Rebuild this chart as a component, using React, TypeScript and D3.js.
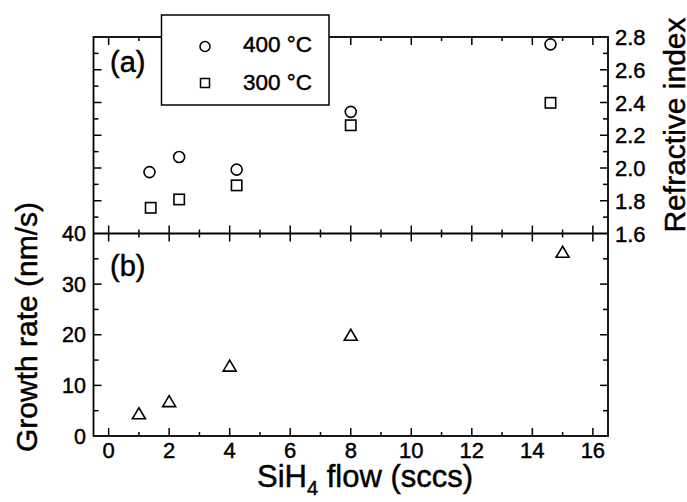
import React from "react";
import * as d3 from "d3";

// ---- data ----
const flow400 = [1.35, 2.33, 4.23, 8.0, 14.6];
const ri400 = [1.975, 2.067, 1.99, 2.343, 2.755];
const flow300 = [1.39, 2.33, 4.23, 8.0, 14.6];
const ri300 = [1.757, 1.808, 1.894, 2.261, 2.398];
const flowGR = [1, 2, 4, 8, 15];
const growth = [4.3, 6.7, 13.7, 19.8, 36.2];

const xTicks = [0, 2, 4, 6, 8, 10, 12, 14, 16];
const riTicks = [1.6, 1.8, 2.0, 2.2, 2.4, 2.6, 2.8];
const grTicks = [0, 10, 20, 30, 40];
const legendLabels = ["400 °C", "300 °C"];

const FONT = "'Liberation Sans', Arial, Helvetica, sans-serif";

export default function App() {
  const W = 687, H = 502;
  const L = 93.5, R = 608, T = 37, M = 233.5, B = 436;
  const x = d3.scaleLinear().domain([-0.5, 16.5]).range([L, R]);
  const yTop = d3.scaleLinear().domain([1.6, 2.8]).range([M, T]);
  const yBot = d3.scaleLinear().domain([0, 40]).range([B, M]);

  const xMinor = d3.range(1, 17, 2);
  const riAll = d3.range(17, 28).map((v) => v / 10);
  const grAll = d3.range(5, 40, 5);

  const sw = 1.8;
  const tri = (cx: number, cy: number) =>
    `M${cx},${cy - 6.5}L${cx + 6.5},${cy + 4.5}L${cx - 6.5},${cy + 4.5}Z`;

  const ts = { stroke: "#000", strokeWidth: 0.45 } as const;

  return (
    <svg
      width={W}
      height={H}
      style={{ position: "absolute", left: 0, top: 0, background: "#fff" }}
      fontFamily={FONT}
    >
      <rect x={0} y={0} width={W} height={H} fill="#fff" />
      {/* frames */}
      <rect x={L} y={T} width={R - L} height={B - T} fill="none" stroke="#000" strokeWidth={sw} />
      <line x1={L} x2={R} y1={M} y2={M} stroke="#000" strokeWidth={sw} />

      {/* x ticks: bottom, middle, top */}
      {xTicks.map((t) => (
        <g key={"xt" + t} stroke="#000" strokeWidth={1.5}>
          <line x1={x(t)} x2={x(t)} y1={B} y2={B - 8} />
          <line x1={x(t)} x2={x(t)} y1={M - 8} y2={M + 8} />
          <line x1={x(t)} x2={x(t)} y1={T} y2={T + 8} />
        </g>
      ))}
      {xMinor.map((t) => (
        <g key={"xm" + t} stroke="#000" strokeWidth={1.5}>
          <line x1={x(t)} x2={x(t)} y1={B} y2={B - 4} />
          <line x1={x(t)} x2={x(t)} y1={M - 4} y2={M + 4} />
          <line x1={x(t)} x2={x(t)} y1={T} y2={T + 4} />
        </g>
      ))}

      {/* top panel y ticks (left & right) */}
      {riAll.map((v) => {
        const major = Math.round(v * 10) % 2 === 0;
        const len = major ? 8 : 5;
        return (
          <g key={"ri" + v} stroke="#000" strokeWidth={1.5}>
            <line x1={L} x2={L + len} y1={yTop(v)} y2={yTop(v)} />
            <line x1={R} x2={R - len} y1={yTop(v)} y2={yTop(v)} />
          </g>
        );
      })}
      {/* bottom panel y ticks */}
      {grAll.map((v) => {
        const major = v % 10 === 0;
        const len = major ? 8 : 5;
        return (
          <g key={"gr" + v} stroke="#000" strokeWidth={1.5}>
            <line x1={L} x2={L + len} y1={yBot(v)} y2={yBot(v)} />
            <line x1={R} x2={R - len} y1={yBot(v)} y2={yBot(v)} />
          </g>
        );
      })}

      {/* tick labels */}
      {xTicks.map((t) => (
        <text key={"xl" + t} x={x(t)} y={458} textAnchor="middle" fontSize={22} {...ts}>
          {t}
        </text>
      ))}
      {grTicks.map((t) => (
        <text key={"gl" + t} x={86} y={yBot(t) + 7.5} textAnchor="end" fontSize={21.5} {...ts}>
          {t}
        </text>
      ))}
      {riTicks.map((t) => (
        <text key={"rl" + t} x={615} y={yTop(t) + 8} textAnchor="start" fontSize={22} {...ts}>
          {t.toFixed(1)}
        </text>
      ))}

      {/* axis titles */}
      <text x={365} y={487} textAnchor="middle" fontSize={31} {...ts}>
        SiH<tspan fontSize={20} dy={8}>4</tspan>
        <tspan dy={-8}> flow (sccs)</tspan>
      </text>
      <text
        transform={`translate(37,327) rotate(-90)`}
        textAnchor="middle"
        fontSize={30}
        {...ts}
      >
        Growth rate (nm/s)
      </text>
      <text
        transform={`translate(685,125) rotate(-90)`}
        textAnchor="middle"
        fontSize={30}
        {...ts}
      >
        Refractive index
      </text>

      {/* panel labels */}
      <text x={110} y={72} fontSize={29} {...ts}>(a)</text>
      <text x={110} y={276} fontSize={29} {...ts}>(b)</text>

      {/* data */}
      {flow400.map((f, i) => (
        <circle key={"c" + i} cx={x(f)} cy={yTop(ri400[i])} r={5.5} fill="none" stroke="#000" strokeWidth={1.6} />
      ))}
      {flow300.map((f, i) => (
        <rect key={"s" + i} x={x(f) - 5.2} y={yTop(ri300[i]) - 5.2} width={10.4} height={10.4} fill="none" stroke="#000" strokeWidth={1.6} />
      ))}
      {flowGR.map((f, i) => (
        <path key={"t" + i} d={tri(x(f), yBot(growth[i]))} fill="none" stroke="#000" strokeWidth={1.6} />
      ))}

      {/* legend */}
      <rect x={161.5} y={15} width={167.5} height={90} fill="#fff" stroke="#000" strokeWidth={1.5} />
      <circle cx={205} cy={46.5} r={5} fill="none" stroke="#000" strokeWidth={1.5} />
      <rect x={200.5} y={78.5} width={9} height={9} fill="none" stroke="#000" strokeWidth={1.5} />
      <text x={243} y={52} fontSize={22.5} {...ts}>{legendLabels[0]}</text>
      <text x={243} y={90} fontSize={22.5} {...ts}>{legendLabels[1]}</text>
    </svg>
  );
}
